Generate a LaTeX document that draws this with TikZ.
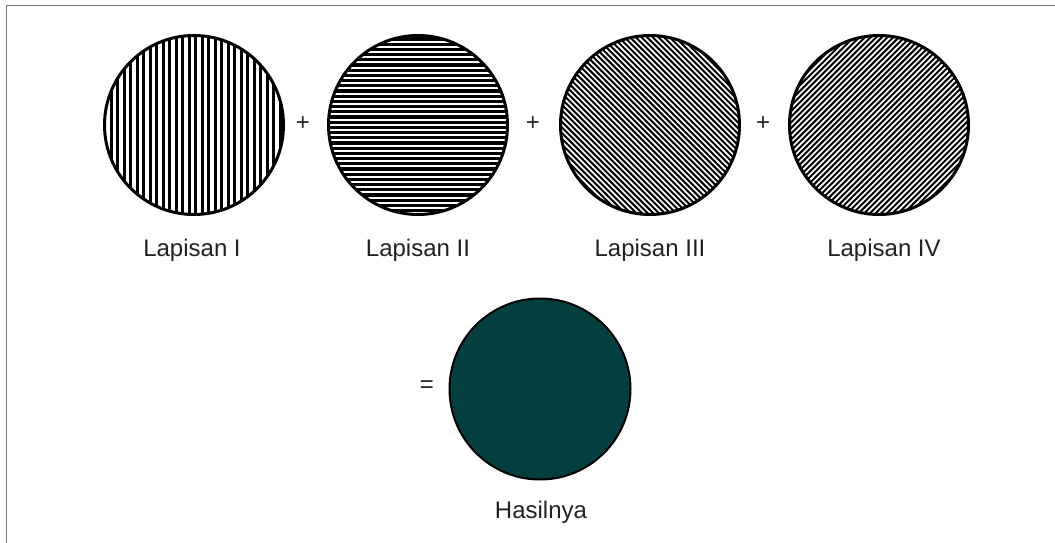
\documentclass[tikz,border=0pt]{standalone}
\usepackage{fontspec}
\setmainfont{Liberation Sans}
\usepackage{tikz}
\usetikzlibrary{positioning,backgrounds}
\definecolor{ink}      {HTML}{000000}
\definecolor{txtgray}  {HTML}{222222}
\definecolor{framegray}{HTML}{7C7C7C}
\definecolor{hasil}    {HTML}{033F3F}
\tikzset{
  every node/.style={font=\fontsize{24}{28}\selectfont, text=txtgray},
  % --- circles
  layer/.style = {circle, draw=ink, line width=3pt, minimum size=179pt, inner sep=0pt},
  result/.style= {circle, draw=ink, line width=2pt, minimum size=181pt, inner sep=0pt, fill=hasil},
  % --- texts
  lbl/.style   = {anchor=base},
  op/.style    = {inner sep=0pt},
}
% hatch a layer: node, rotation, distance, line width
\newcommand{\hatchdisc}[4]{%
  \begin{scope}
    \clip (#1.center) circle[radius=89.5];
    \begin{scope}[shift={(#1.center)}, rotate=#2]
      \foreach \i in {0,...,50}
        \draw[ink, line width=#4] ({-96+\i*#3},-96) -- ++(0,192);
    \end{scope}
  \end{scope}}
\begin{document}
\begin{tikzpicture}[x=1pt, y=-1pt]
  \useasboundingbox (0,0) rectangle (1055,543);
  \draw[framegray, line width=1.5pt] (6.5,543) -- (6.5,5.5) -- (1055,5.5);

  \node[layer] (lay1) at (194,125) {};
  \node[layer] (lay2) at (418,125) {};
  \node[layer] (lay3) at (650,125) {};
  \node[layer] (lay4) at (879,125) {};
  \begin{scope}[on background layer]
    \hatchdisc{lay1}{0}{6.5}{3pt}
    \hatchdisc{lay2}{90}{5.2}{3.3pt}
    \hatchdisc{lay3}{45}{4}{2pt}
    \hatchdisc{lay4}{-45}{4}{2pt}
  \end{scope}

  \node[op] (plus1) at (303,124) {+};
  \node[op] (plus2) at (533,124) {+};
  \node[op] (plus3) at (763,124) {+};

  \node[lbl] (lbl1) at (192,256) {Lapisan I};
  \node[lbl] (lbl2) at (418,256) {Lapisan II};
  \node[lbl] (lbl3) at (650,256) {Lapisan III};
  \node[lbl] (lbl4) at (884,256) {Lapisan IV};

  \node[op] (eq) at (427,387) {=};
  \node[result] (res) at (540,389) {};
  \node[lbl] (lblres) at (541,518) {Hasilnya};
\end{tikzpicture}
\end{document}
